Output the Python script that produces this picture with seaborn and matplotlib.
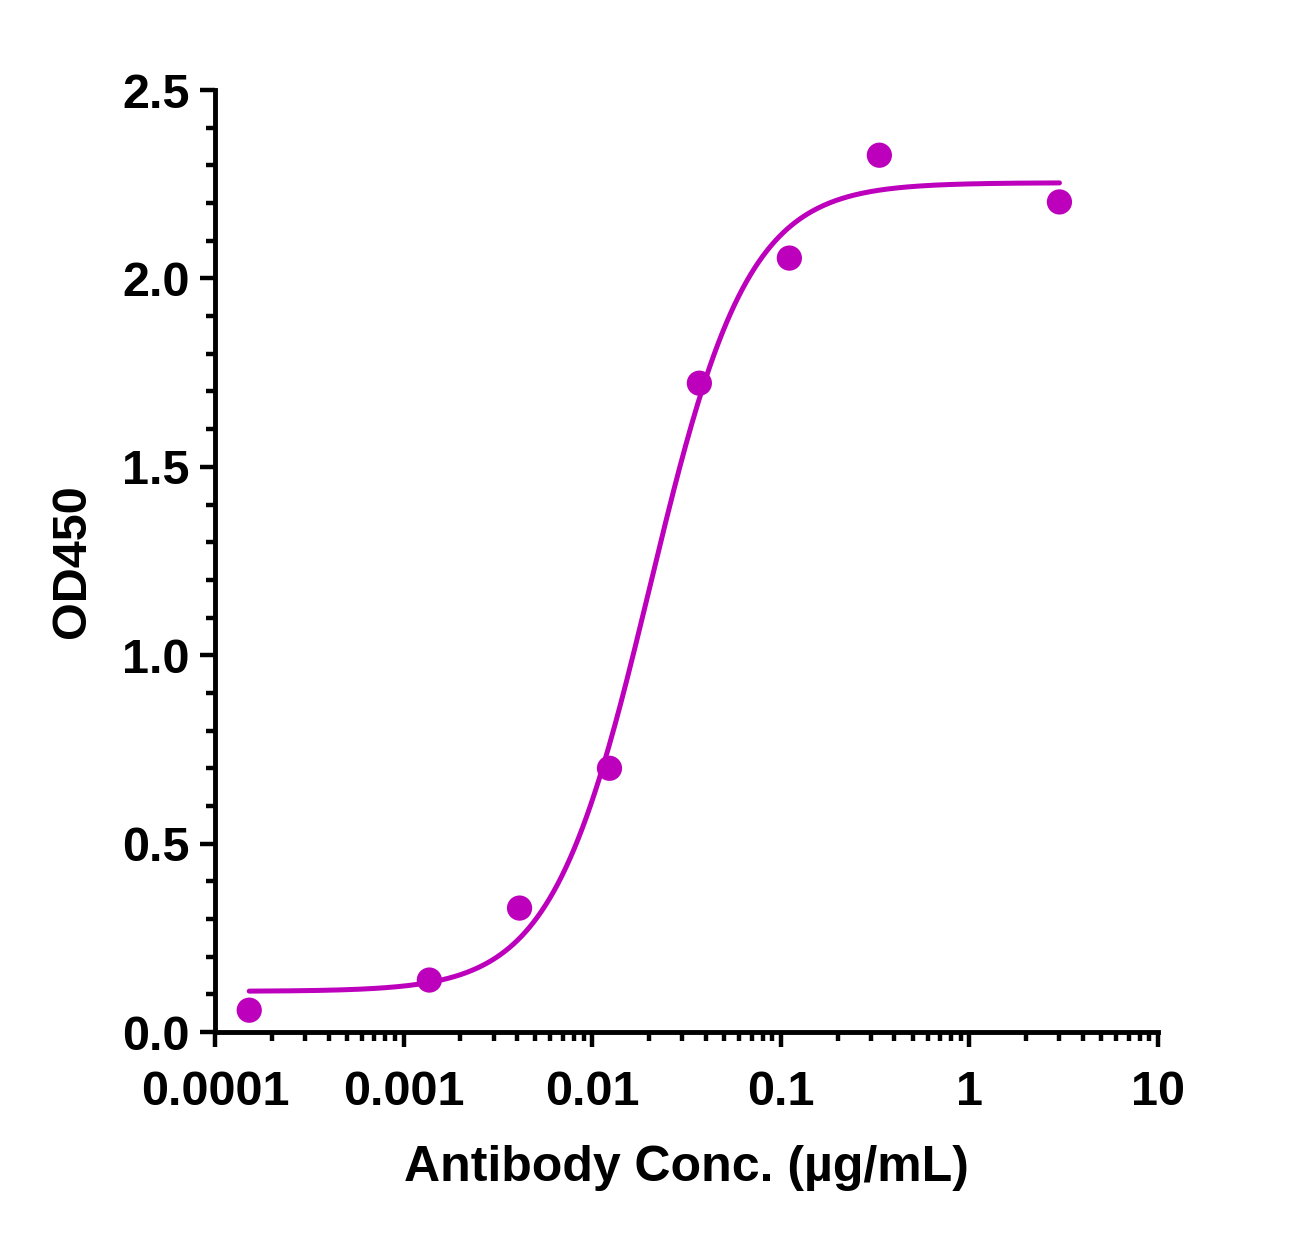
import numpy as np
import pandas as pd
import matplotlib
matplotlib.use("Agg")
import matplotlib.pyplot as plt
import seaborn as sns
from matplotlib.ticker import LogLocator, MultipleLocator, NullFormatter

# DATA
conc = [0.000152, 0.00137, 0.00412, 0.01235, 0.037, 0.111, 0.333, 3.0]
od450 = [0.058, 0.138, 0.329, 0.700, 1.722, 2.054, 2.327, 2.203]

# 4PL fit parameters of the drawn curve
fit_bottom = 0.108
fit_top = 2.254
fit_ec50 = 0.0202
fit_hill = 1.67

x_ticks = [0.0001, 0.001, 0.01, 0.1, 1, 10]
x_tick_labels = ["0.0001", "0.001", "0.01", "0.1", "1", "10"]
y_ticks = [0.0, 0.5, 1.0, 1.5, 2.0, 2.5]
y_tick_labels = ["0.0", "0.5", "1.0", "1.5", "2.0", "2.5"]

color = "#BC00BC"

sns.set_theme(style="ticks")
plt.rcParams["font.family"] = ["Liberation Sans", "DejaVu Sans"]
plt.rcParams["font.weight"] = "bold"

df = pd.DataFrame({"conc": conc, "od": od450})

# fitted curve between first and last concentration
xs = np.logspace(np.log10(min(conc)), np.log10(max(conc)), 400)
ys = fit_bottom + (fit_top - fit_bottom) / (1 + (fit_ec50 / xs) ** fit_hill)
curve = pd.DataFrame({"conc": xs, "od": ys})

fig = plt.figure(figsize=(13.13, 12.40), dpi=100)
ax = fig.add_axes([0.1637, 0.1677, 0.8820 - 0.1637, 0.9274 - 0.1677])

sns.lineplot(data=curve, x="conc", y="od", ax=ax, color=color, linewidth=3.6)
sns.scatterplot(data=df, x="conc", y="od", ax=ax, color=color, s=330,
                edgecolor="none", zorder=3, clip_on=False)

ax.set_xscale("log")
ax.set_xlim(1e-4, 10)
ax.set_ylim(0, 2.5)

ax.set_xticks(x_ticks)
ax.set_xticklabels(x_tick_labels)
ax.xaxis.set_minor_locator(LogLocator(base=10, subs=np.arange(2, 10)))
ax.xaxis.set_minor_formatter(NullFormatter())
ax.set_yticks(y_ticks)
ax.set_yticklabels(y_tick_labels)
ax.yaxis.set_minor_locator(MultipleLocator(0.1))

sns.despine(ax=ax)
for side in ["left", "bottom"]:
    ax.spines[side].set_linewidth(3.5)
    ax.spines[side].set_color("black")

ax.tick_params(axis="both", which="major", length=11, width=3.2, color="black",
               labelsize=35, labelcolor="black")
ax.tick_params(axis="both", which="minor", length=6.5, width=3.2, color="black")
ax.tick_params(axis="y", which="major", pad=7)
ax.tick_params(axis="x", which="major", pad=16)
for lab in ax.get_xticklabels() + ax.get_yticklabels():
    lab.set_fontweight("bold")

ax.set_xlabel("Antibody Conc. (µg/mL)", fontsize=36, fontweight="bold",
              color="black", labelpad=22)
ax.set_ylabel("OD450", fontsize=35, fontweight="bold", color="black", labelpad=20)

fig.savefig("out.png", dpi=100)
